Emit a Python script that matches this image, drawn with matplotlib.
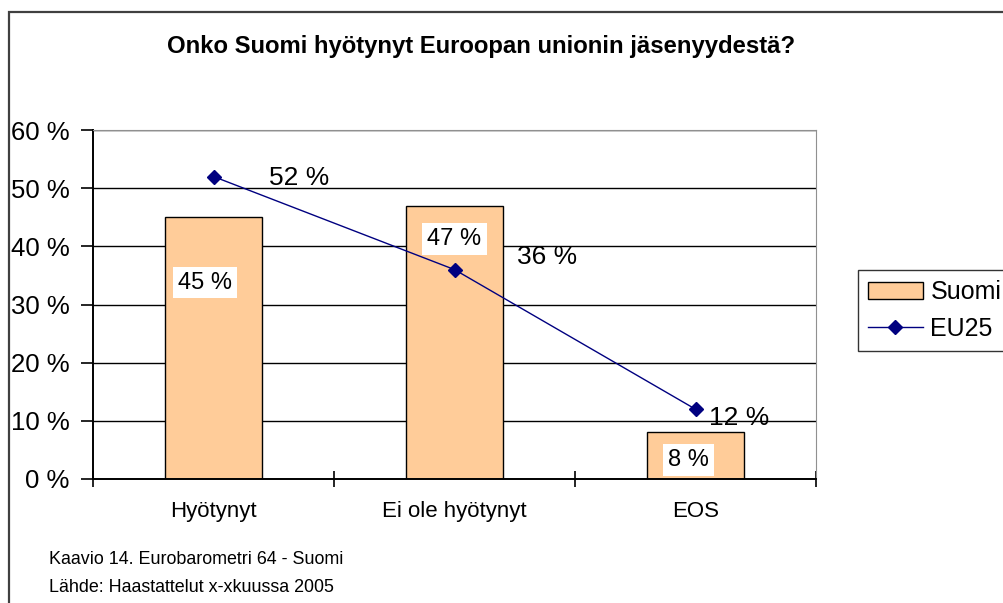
import matplotlib.pyplot as plt
from matplotlib.patches import Rectangle

plt.rcParams['font.family'] = ['Liberation Sans', 'DejaVu Sans']

# Data
categories = ['Hyötynyt', 'Ei ole hyötynyt', 'EOS']
suomi = [45, 47, 8]
eu25 = [52, 36, 12]
title = 'Onko Suomi hyötynyt Euroopan unionin jäsenyydestä?'
footer = ['Kaavio 14. Eurobarometri 64 - Suomi',
          'Lähde: Haastattelut x-xkuussa 2005']

# label placement (points)
bar_lbl_off = [(-6, -47), (0, -24), (-5, -20)]
line_lbl_off = [(40, -1), (45, 9), (10, -6.5)]

fig = plt.figure(figsize=(10.04, 6.03), dpi=100)
fig.patch.set_facecolor('white')
# outer chart frame
fig.add_artist(Rectangle((9 / 1004, -0.1), 1.2, 1 - 12 / 603 + 0.1,
                         transform=fig.transFigure, fill=False,
                         edgecolor='#404040', lw=1.6))

ax = fig.add_axes([93 / 1004, 1 - 479 / 603, 723 / 1004, 349 / 603])
x = range(len(categories))

ax.set_axisbelow(True)
ax.yaxis.grid(True, color='black', lw=1)
bars = ax.bar(x, suomi, width=0.4, color='#FFCC99', edgecolor='black',
              lw=1, label='Suomi', zorder=2)
line, = ax.plot(x, eu25, color='#000080', lw=1, marker='D', markersize=7,
                label='EU25', zorder=3)

for xi, v, off in zip(x, suomi, bar_lbl_off):
    ax.annotate(f'{v} %', (xi, v), xytext=off, textcoords='offset points',
                ha='center', va='center', fontsize=17, zorder=4,
                bbox=dict(facecolor='white', edgecolor='none', pad=3.5))
for xi, v, off in zip(x, eu25, line_lbl_off):
    ax.annotate(f'{v} %', (xi, v), xytext=off, textcoords='offset points',
                ha='left', va='center', fontsize=19, zorder=4)

ax.set_xlim(-0.5, 2.5)
ax.set_ylim(0, 60)
ax.set_yticks(range(0, 61, 10))
ax.set_yticklabels([f'{t} %' for t in range(0, 61, 10)], fontsize=18.5)
ax.tick_params(axis='y', direction='out', length=9, width=1.2, pad=8)

ax.set_xticks([-0.5, 0.5, 1.5, 2.5])
ax.set_xticklabels([])
ax.set_xticks(list(x), minor=True)
ax.set_xticklabels(categories, minor=True, fontsize=16)
ax.tick_params(axis='x', which='major', direction='inout', length=12,
               width=1.2)
ax.tick_params(axis='x', which='minor', length=0, pad=16)

for s in ['top', 'right']:
    ax.spines[s].set_color('#909090')
for s in ['left', 'bottom']:
    ax.spines[s].set_color('black')
    ax.spines[s].set_linewidth(1.4)

fig.text(481 / 1004, 1 - 46 / 603, title, ha='center', va='center',
         fontsize=17.2, fontweight='bold')
fig.text(49 / 1004, 1 - 559 / 603, footer[0], ha='left', va='center',
         fontsize=12.9)
fig.text(49 / 1004, 1 - 588 / 603, footer[1], ha='left', va='center',
         fontsize=12.9)

fig.legend([bars, line], ['Suomi', 'EU25'], loc='upper left',
           bbox_to_anchor=(858 / 1004, 1 - 270 / 603),
           fontsize=18, frameon=True, fancybox=False, edgecolor='black',
           borderpad=0.4, handlelength=2.2, handletextpad=0.3,
           labelspacing=0.5, borderaxespad=0)

fig.savefig('out.png', dpi=100)
